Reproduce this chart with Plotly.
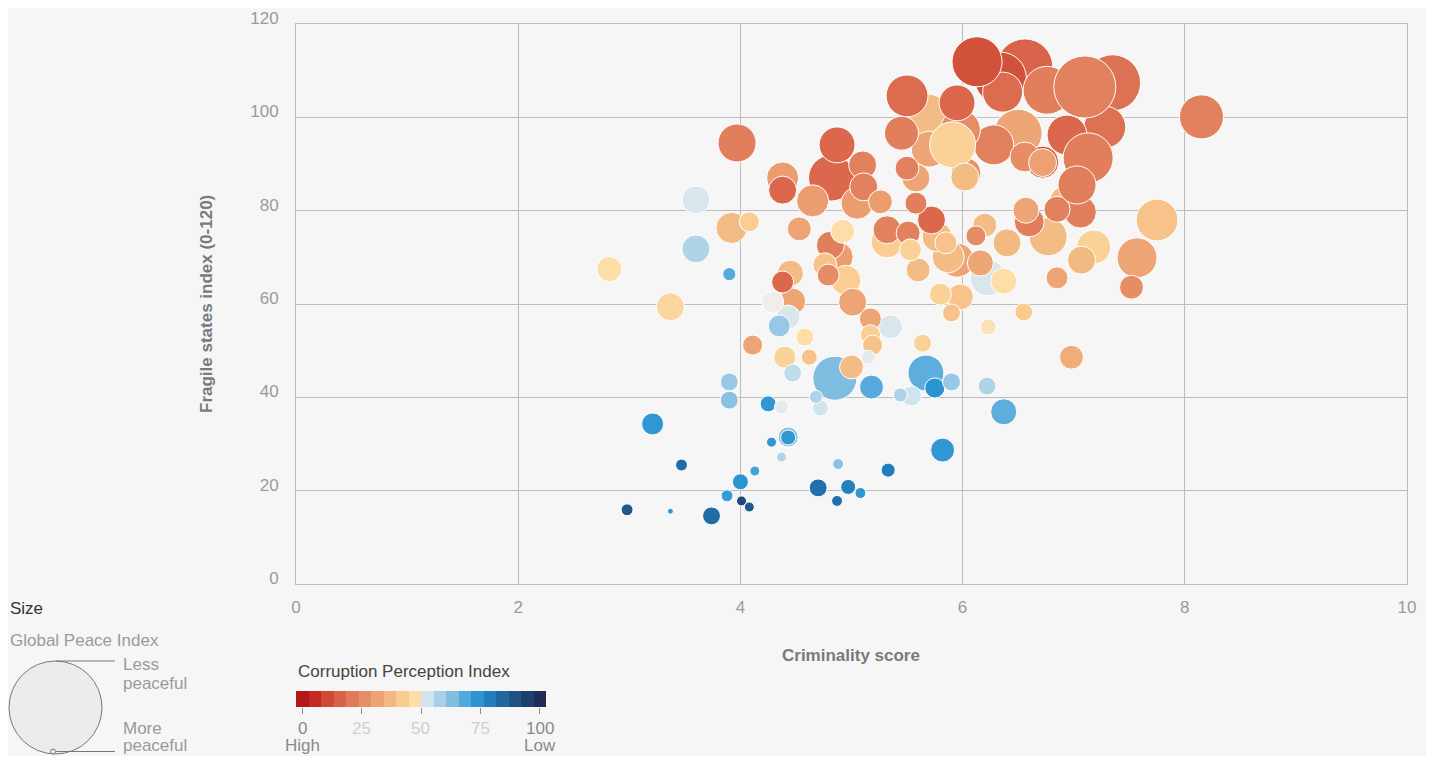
import numpy as np
import plotly.graph_objects as go

# criminality score (x), fragile states index (y), corruption perception index (colour), global peace index (size)
criminality = [2.98, 3.37, 3.21, 3.47, 3.74, 3.88, 4.00, 4.01, 4.08, 4.13,
               4.37, 4.28, 4.43, 4.43, 4.25, 4.37, 3.90, 3.90, 3.90, 3.60,
               3.60, 2.82, 3.37, 3.97, 3.92, 4.08, 4.11, 4.38, 4.38, 4.65,
               4.82, 4.87, 5.10, 5.11, 5.05, 5.26, 4.53, 4.92, 4.81, 4.88,
               4.79, 4.76, 4.95, 5.01, 5.17, 5.35, 5.17, 5.19, 4.45, 4.38,
               4.47, 4.29, 4.43, 4.35, 4.58, 5.32, 5.32, 5.51, 5.53, 5.60,
               5.58, 5.50, 5.58, 5.72, 5.77, 6.13, 6.34, 6.56, 6.36, 6.76,
               7.10, 7.35, 7.28, 6.94, 7.13, 6.72, 6.72, 6.50, 6.28, 6.56,
               7.03, 6.94, 6.57, 6.60, 6.85, 7.06, 6.77, 7.18, 7.07, 7.75,
               7.57, 7.52, 6.85, 8.15, 5.50, 5.68, 5.95, 5.98, 5.45, 5.70,
               5.91, 6.03, 6.02, 5.87, 5.95, 5.85, 6.20, 6.12, 6.40, 6.16,
               6.23, 6.37, 5.80, 5.98, 5.90, 6.55, 6.23, 6.98, 4.40, 4.62,
               4.47, 4.85, 5.00, 4.68, 4.72, 5.18, 5.15, 5.64, 5.67, 5.75,
               5.90, 5.44, 5.54, 6.22, 6.37, 4.70, 4.88, 4.97, 5.08, 4.87,
               5.33, 5.82]
fragility = [15.9, 15.6, 34.3, 25.5, 14.6, 18.9, 21.9, 17.8, 16.5, 24.2,
             27.2, 30.4, 31.5, 31.4, 38.6, 37.9, 43.3, 39.4, 66.4, 82.3,
             71.8, 67.5, 59.4, 94.5, 76.3, 77.6, 51.2, 87.0, 84.4, 82.1,
             87.0, 94.1, 89.8, 85.1, 81.6, 81.9, 76.1, 75.6, 72.6, 70.1,
             66.2, 68.4, 65.1, 60.4, 56.8, 55.1, 53.4, 51.2, 66.6, 64.7,
             60.6, 60.4, 57.2, 55.3, 52.9, 73.3, 75.9, 75.2, 71.6, 67.3,
             87.0, 89.1, 81.6, 78.0, 74.4, 111.9, 108.4, 110.8, 105.4, 105.8,
             106.5, 107.4, 97.9, 96.2, 91.3, 90.4, 90.3, 96.6, 94.1, 91.5,
             85.5, 81.6, 80.1, 77.6, 80.3, 79.7, 74.4, 72.2, 69.4, 78.0,
             69.9, 63.6, 65.6, 100.1, 104.6, 100.1, 103.1, 97.3, 96.6, 93.2,
             94.1, 88.1, 87.2, 70.1, 69.4, 73.1, 76.9, 74.6, 73.1, 68.8,
             65.6, 64.9, 62.1, 61.5, 58.1, 58.3, 55.1, 48.6, 48.6, 48.6,
             45.2, 44.1, 46.5, 40.1, 37.7, 42.2, 48.6, 51.6, 45.2, 42.0,
             43.3, 40.5, 40.3, 42.4, 36.9, 20.6, 25.7, 20.8, 19.5, 17.8,
             24.4, 28.7]
corruption = [88, 73, 73, 83, 83, 72, 74, 92, 88, 70,
              57, 73, 62, 73, 73, 51, 60, 62, 68, 52,
              57, 47, 45, 22, 38, 43, 32, 30, 17, 30,
              17, 17, 23, 23, 30, 30, 32, 47, 22, 30,
              26, 40, 43, 32, 32, 52, 43, 40, 38, 17,
              32, 50, 52, 60, 47, 43, 23, 23, 44, 38,
              32, 23, 22, 17, 38, 12, 12, 16, 18, 22,
              23, 19, 19, 17, 22, 12, 31, 32, 23, 26,
              22, 37, 32, 22, 23, 22, 38, 44, 37, 40,
              32, 26, 32, 23, 18, 38, 17, 26, 22, 32,
              44, 27, 38, 38, 32, 40, 38, 26, 37, 32,
              52, 47, 44, 40, 40, 42, 48, 34, 44, 40,
              55, 63, 38, 57, 53, 68, 51, 44, 67, 74,
              60, 57, 53, 57, 67, 82, 62, 78, 73, 82,
              79, 73]
peace = [1.33, 1.08, 1.75, 1.33, 1.58, 1.33, 1.50, 1.25, 1.25, 1.25,
         1.25, 1.25, 1.67, 1.46, 1.50, 1.42, 1.58, 1.58, 1.38, 2.00,
         2.00, 1.88, 2.00, 2.42, 2.13, 1.67, 1.67, 2.17, 2.00, 2.17,
         2.75, 2.33, 2.00, 2.00, 2.17, 1.83, 1.83, 1.83, 2.00, 2.08,
         1.75, 1.83, 2.08, 2.00, 1.75, 1.83, 1.67, 1.67, 1.92, 1.75,
         1.92, 1.75, 1.83, 1.75, 1.58, 2.17, 2.00, 1.83, 1.75, 1.83,
         2.00, 1.83, 1.75, 2.00, 2.08, 2.92, 3.00, 3.17, 2.50, 2.83,
         3.42, 3.17, 2.58, 2.50, 2.92, 2.17, 2.00, 2.83, 2.50, 2.08,
         2.42, 2.33, 1.92, 2.08, 1.92, 2.17, 2.42, 2.25, 2.00, 2.58,
         2.50, 1.83, 1.75, 2.67, 2.58, 2.75, 2.33, 2.50, 2.25, 2.33,
         2.75, 2.08, 2.00, 2.17, 2.25, 1.75, 1.83, 1.67, 2.00, 1.92,
         2.33, 1.92, 1.75, 1.92, 1.58, 1.58, 1.50, 1.83, 1.75, 1.50,
         1.58, 2.67, 1.83, 1.38, 1.50, 1.83, 1.42, 1.58, 2.33, 1.67,
         1.58, 1.42, 1.67, 1.58, 1.92, 1.58, 1.29, 1.46, 1.29, 1.29,
         1.42, 1.83]

cpi_ticks = [0, 25, 50, 75, 100]
x_ticks = [0, 2, 4, 6, 8, 10]
y_ticks = [0, 20, 40, 60, 80, 100, 120]

cells = ["#b2191b", "#c42a22", "#cf4a34", "#d9624a", "#e07a58", "#e68e66", "#eda374",
         "#f3b882", "#f9cb8f", "#fcdfa8", "#d2e5ef", "#a8d0e7", "#7fbde1", "#52a9dc",
         "#2b94d1", "#227dbb", "#2067a0", "#1f5384", "#1f3f6e", "#222c56"]

# continuous scale for the bubbles, neutral in the middle
bubble_scale = [[i / 19, c] for i, c in enumerate(cells)]
bubble_scale.insert(10, [0.5, "#f1ede8"])

# stepped scale for the legend bar
step_scale = []
for i, c in enumerate(cells):
    step_scale += [[i / 20, c], [(i + 1) / 20, c]]

FONT = "Liberation Sans, Arial, Helvetica, sans-serif"
GRID = "#bdbdbd"

# page is shown with an 8px body margin, so the figure itself is 1418 x 748
W, H, OFF = 1418, 748, 8


def fx(p):
    return (p - OFF) / W


def fy(p):
    return 1 - (p - OFF) / H


# big bubbles go underneath, except a few that sit on top in the original
front = [70, 74, 80, 65, 100, 102]
order = [i for i in np.argsort(-np.array(peace), kind="stable") if i not in front] + front
xs = np.array(criminality)[order]
ys = np.array(fragility)[order]
cs = np.array(corruption)[order]
gp = np.array(peace)[order]
sizes = 4 + (gp - 1.0) * 24

fig = go.Figure()
fig.add_trace(go.Scatter(
    x=xs, y=ys, mode="markers",
    marker=dict(size=sizes, color=cs, colorscale=bubble_scale, cmin=0, cmax=100,
                line=dict(color="white", width=1), opacity=1),
    hovertemplate="Criminality %{x}<br>FSI %{y}<extra></extra>",
    showlegend=False))

# legend bar for the corruption index
cell_pos = np.linspace(0, 100, 20)
fig.add_trace(go.Heatmap(
    x=cell_pos, y=[0], z=[list(range(20))], colorscale=step_scale,
    zmin=0, zmax=20, showscale=False, xaxis="x2", yaxis="y2", hoverinfo="skip"))

fig.update_layout(
    width=W, height=H,
    margin=dict(l=0, r=0, t=0, b=0, autoexpand=False),
    showlegend=False,
    paper_bgcolor="#f6f6f6", plot_bgcolor="#f6f6f6",
    font=dict(family=FONT, size=17, color="#999999"),
    xaxis=dict(domain=[fx(296), fx(1407)], range=[0, 10], tickvals=x_ticks,
               showgrid=True, gridcolor=GRID, zeroline=False, showline=True,
               linecolor=GRID, mirror=True, ticks="", ticklabelstandoff=8,
               automargin=False, tickfont=dict(size=17, color="#9a9a9a")),
    yaxis=dict(domain=[fy(584), fy(24)], range=[0, 120], tickvals=y_ticks,
               showgrid=True, gridcolor=GRID, zeroline=False, showline=True,
               linecolor=GRID, mirror=True, ticks="", ticklabelstandoff=13,
               ticklabelshift=-6, automargin=False,
               tickfont=dict(size=17, color="#9a9a9a")),
    xaxis2=dict(domain=[fx(296), fx(546)], range=[-100 / 38, 100 + 100 / 38],
                anchor="y2", showgrid=False, zeroline=False, showline=False,
                tickvals=cpi_ticks, ticks="outside", ticklen=6, tickcolor="#8a8a8a",
                showticklabels=False, automargin=False),
    yaxis2=dict(domain=[fy(707), fy(691)], anchor="x2", automargin=False,
                showgrid=False, zeroline=False, showticklabels=False, range=[-0.5, 0.5]),
)

ann = []


def text(x, y, s, size=17, color="#999999", xanchor="left", bold=False, angle=0):
    ann.append(dict(x=fx(x), y=fy(y), xref="paper", yref="paper", text=s,
                    showarrow=False, xanchor=xanchor, yanchor="middle", textangle=angle,
                    font=dict(family=FONT, size=size, color=color,
                              weight="bold" if bold else "normal")))


# axis titles
text(851, 655, "Criminality score", color="#7a7a7a", xanchor="center", bold=True)
text(206, 304, "Fragile states index (0-120)", color="#7a7a7a", xanchor="center", bold=True, angle=-90)

# size legend
text(8, 608, "Size", color="#333333")
text(8, 640, "Global Peace Index", color="#9a9a9a")
text(121, 664, "Less", color="#9a9a9a")
text(121, 683, "peaceful", color="#9a9a9a")
text(121, 728, "More", color="#9a9a9a")
text(121, 745, "peaceful", color="#9a9a9a")

# colour legend
text(296, 671, "Corruption Perception Index", color="#444444")
label_colors = ["#8a8a8a", "#cfcfcf", "#cfcfcf", "#cfcfcf", "#8a8a8a"]
bar_px = np.array(cpi_ticks) * 2.375 + 302
for v, p, col in zip(cpi_ticks, bar_px, label_colors):
    text(p, 728, str(v), color=col, xanchor="center")
text(302, 745, "High", color="#8a8a8a", xanchor="center")
text(540, 745, "Low", color="#8a8a8a", xanchor="center")

fig.update_layout(annotations=ann)


def line(xa, ya, xb, yb):
    return dict(type="line", xref="paper", yref="paper", x0=fx(xa), y0=fy(ya),
                x1=fx(xb), y1=fy(yb), line=dict(color="#777777", width=1))


def ring(xa, ya, xb, yb):
    return dict(type="circle", xref="paper", yref="paper", x0=fx(xa), y0=fy(yb),
                x1=fx(xb), y1=fy(ya), fillcolor="#ececee",
                line=dict(color="#777777", width=1))


shapes = [
    ring(9, 661, 102, 754),
    line(56, 661, 115, 661),
    ring(50.5, 749, 55.5, 754),
    line(56, 751.5, 115, 751.5),
]
fig.update_layout(shapes=shapes)

fig.write_html("out.html")
